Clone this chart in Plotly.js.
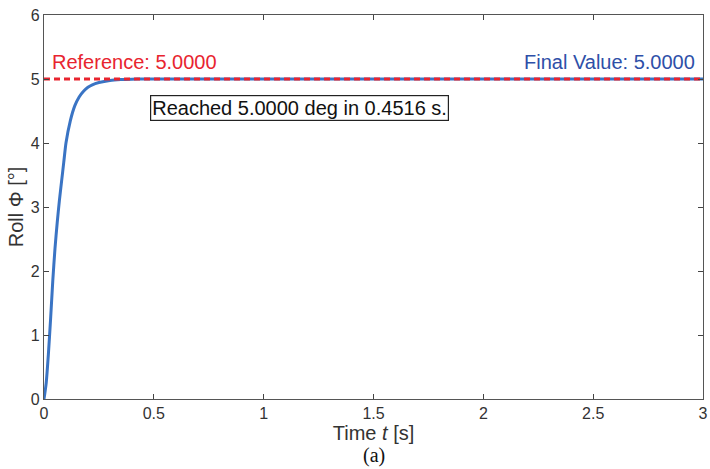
<!DOCTYPE html>
<html>
<head>
<meta charset="utf-8">
<script src="https://cdn.plot.ly/plotly-3.0.1.min.js"></script>
<style>html,body{margin:0;padding:0;background:#fff;}#chart{width:710px;height:469px;}</style>
</head>
<body>
<div id="chart"></div>
<script>
// Response data
const timeS = [0, 0.01, 0.02, 0.03, 0.04, 0.05, 0.06, 0.07, 0.08, 0.09, 0.10, 0.12, 0.14, 0.16, 0.18, 0.20, 0.22, 0.25, 0.30, 0.35, 0.40, 0.45, 0.5, 1.0, 1.5, 2.0, 2.5, 3.0];
const rollDeg = [0, 0.25, 0.7, 1.25, 1.85, 2.35, 2.75, 3.1, 3.4, 3.7, 4.0, 4.35, 4.58, 4.72, 4.81, 4.87, 4.91, 4.945, 4.978, 4.992, 4.998, 5.0, 5.0, 5.0, 5.0, 5.0, 5.0, 5.0];
const refTime = [0, 3];
const refValue = [5, 5];
const xTicks = [0, 0.5, 1, 1.5, 2, 2.5, 3];
const xTickText = ['0', '0.5', '1', '1.5', '2', '2.5', '3'];
const yTicks = [0, 1, 2, 3, 4, 5, 6];
const referenceLabel = 'Reference: 5.0000';
const finalLabel = 'Final Value: 5.0000';
const reachedLabel = 'Reached 5.0000 deg in 0.4516 s.';

const font = 'Liberation Sans, Arial, sans-serif';

const traces = [
  {x: timeS, y: rollDeg, type: 'scatter', mode: 'lines', line: {color: '#3a74c4', width: 3, shape: 'spline', smoothing: 0.6}, hoverinfo: 'skip'},
  {x: refTime, y: refValue, type: 'scatter', mode: 'lines', line: {color: '#e8242f', width: 2.8, dash: '6px,4px'}, hoverinfo: 'skip'}
];

const axisCommon = {
  showline: true, linecolor: '#555', linewidth: 1.2, mirror: 'ticks',
  ticks: 'inside', ticklen: 5, tickcolor: '#444', tickwidth: 1,
  showgrid: false, zeroline: false,
  tickfont: {family: font, size: 16, color: '#333'}
};

const layout = {
  width: 710, height: 469,
  margin: {l: 44, r: 7, t: 15, b: 70},
  paper_bgcolor: '#fff', plot_bgcolor: '#fff',
  showlegend: false,
  xaxis: Object.assign({}, axisCommon, {
    range: [0, 3], tickvals: xTicks, ticktext: xTickText,
    title: {text: 'Time <i>t</i> [s]', font: {family: font, size: 20, color: '#333'}, standoff: 0}
  }),
  yaxis: Object.assign({}, axisCommon, {
    range: [0, 6], tickvals: yTicks,
    title: {text: 'Roll Φ [°]', font: {family: font, size: 20, color: '#333'}, standoff: 1}
  }),
  annotations: [
    {x: 0.027, y: 5.27, xref: 'x', yref: 'y', text: referenceLabel, showarrow: false, xanchor: 'left', yanchor: 'middle', font: {family: font, size: 20, color: '#e8242f'}},
    {x: 2.972, y: 5.27, xref: 'x', yref: 'y', text: finalLabel, showarrow: false, xanchor: 'right', yanchor: 'middle', font: {family: font, size: 20, color: '#2e4fa8'}},
    {x: 1.163, y: 4.55, xref: 'x', yref: 'y', text: reachedLabel, showarrow: false, xanchor: 'center', yanchor: 'middle', font: {family: font, size: 20, color: '#111'}, bordercolor: '#222', borderwidth: 1.2, borderpad: 1, bgcolor: '#fff'},
    {x: 0.5, y: 0, xref: 'paper', yref: 'paper', yshift: -56, text: '(a)', showarrow: false, xanchor: 'center', yanchor: 'middle', font: {family: 'Liberation Serif, Times New Roman, serif', size: 20, color: '#111'}}
  ]
};

Plotly.newPlot('chart', traces, layout, {staticPlot: true, displayModeBar: false});
</script>
</body>
</html>
